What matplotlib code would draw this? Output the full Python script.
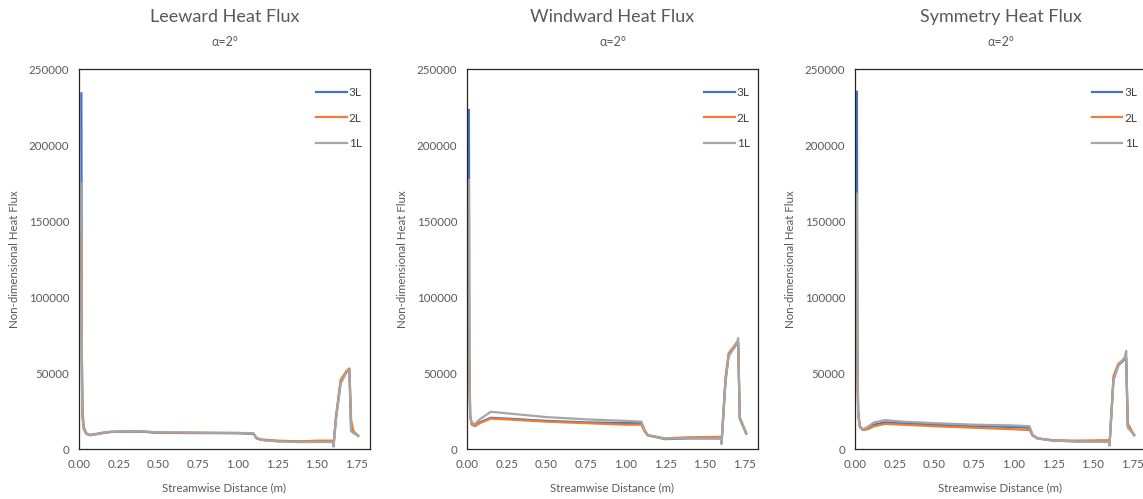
import matplotlib
matplotlib.use("Agg")
import matplotlib.pyplot as plt

plt.rcParams['font.family'] = ['Lato', 'DejaVu Sans']

series_names = ["3L", "2L", "1L"]
colors = ["#4472C4", "#ED7D31", "#A5A5A5"]

titles = ["Leeward Heat Flux", "Windward Heat Flux", "Symmetry Heat Flux"]
subtitle = "α=2°"
xlabel = "Streamwise Distance (m)"
ylabel = "Non-dimensional Heat Flux"
xticks = [0.00, 0.25, 0.50, 0.75, 1.00, 1.25, 1.50, 1.75]
yticks = [0, 50000, 100000, 150000, 200000, 250000]

# Leeward
lee_x = [0.015, 0.018, 0.022, 0.03, 0.045, 0.07, 0.10, 0.15, 0.20, 0.30, 0.40, 0.50, 0.75, 1.00, 1.10, 1.12,
         1.15, 1.25, 1.40, 1.50, 1.60, 1.605, 1.62, 1.65, 1.685, 1.705, 1.716, 1.73, 1.76]
lee_3L = [234000, 63000, 22000, 13500, 10000, 9200, 9600, 10500, 11200, 11500, 11400, 10600, 10500, 10400, 10000, 7000,
          6000, 5200, 4800, 5000, 5000, 2000, 20000, 44000, 50500, 52500, 12000, 11000, 8800]
lee_2L = [143000, 60000, 27000, 14500, 10500, 9300, 9800, 10800, 11300, 11500, 11500, 10800, 10700, 10500, 10200, 7200,
          6300, 5500, 5000, 5500, 5500, 2200, 21000, 45500, 51000, 53000, 19000, 12000, 8500]
lee_1L = [175000, 45000, 20000, 13000, 10000, 9000, 9500, 10500, 11300, 11700, 11600, 11000, 10800, 10600, 10400, 7000,
          6000, 5000, 4500, 4600, 4600, 1500, 19000, 43000, 50000, 52000, 12000, 10500, 8700]

# Windward
win_x = [0.012, 0.015, 0.02, 0.03, 0.05, 0.08, 0.15, 0.25, 0.50, 0.75, 1.00, 1.10, 1.12, 1.14, 1.25, 1.40,
         1.60, 1.605, 1.63, 1.65, 1.68, 1.70, 1.71, 1.72, 1.76]
win_3L = [223000, 60000, 22000, 16500, 15800, 17500, 20500, 20000, 18500, 17500, 17000, 17000, 12000, 9000, 6500, 7000,
          7000, 3500, 45000, 62000, 66000, 69000, 70000, 20000, 10500]
win_2L = [68000, 45000, 21000, 16000, 15000, 17000, 20000, 19500, 18000, 17000, 16000, 16000, 11500, 9000, 7000, 7700,
          8000, 3800, 47000, 63000, 67000, 70000, 69000, 21000, 10000]
win_1L = [177000, 55000, 22000, 17000, 16500, 19500, 24500, 23500, 21000, 19500, 18500, 18000, 12500, 9200, 6800, 7000,
          7000, 3500, 44000, 61000, 66000, 69000, 73000, 20000, 11000]

# Symmetry
sym_x = [0.012, 0.015, 0.02, 0.03, 0.05, 0.08, 0.12, 0.19, 0.30, 0.50, 0.75, 1.00, 1.10, 1.12, 1.15, 1.25,
         1.40, 1.60, 1.605, 1.63, 1.66, 1.70, 1.71, 1.72, 1.76]
sym_3L = [235000, 70000, 25000, 15000, 12500, 13500, 16000, 17500, 17000, 16000, 15000, 14500, 14000, 9000, 7000, 5500,
          5000, 5000, 2500, 46000, 55000, 59000, 60000, 15000, 9200]
sym_2L = [135000, 50000, 22000, 14500, 12500, 13000, 15000, 16500, 16000, 15000, 14000, 13000, 12500, 9000, 7000, 5800,
          5500, 5800, 2800, 48000, 56000, 59500, 59000, 17000, 9000]
sym_1L = [168000, 60000, 24000, 15000, 13000, 14500, 17500, 19000, 18000, 17000, 16000, 15500, 15000, 9500, 7000, 5500,
          5000, 4800, 2300, 45000, 55000, 60000, 64500, 14000, 9500]

panels = [
    (lee_x, [lee_3L, lee_2L, lee_1L]),
    (win_x, [win_3L, win_2L, win_1L]),
    (sym_x, [sym_3L, sym_2L, sym_1L]),
]

W, H = 1143, 499
fig = plt.figure(figsize=(W / 100, H / 100), dpi=100)
txt = "#595959"

lefts = [79, 467, 855]
ax_w = 291
top_px, bot_px = 69, 449

for i, (x, ys) in enumerate(panels):
    ax = fig.add_axes([lefts[i] / W, (H - bot_px) / H, ax_w / W, (bot_px - top_px) / H])
    for name, c, y in zip(series_names, colors, ys):
        ax.plot(x, y, color=c, lw=1.6, label=name, solid_joinstyle='round')
    ax.set_xlim(0, 1.835)
    ax.set_ylim(0, 250000)
    ax.set_xticks(xticks)
    ax.set_xticklabels([f"{t:.2f}" for t in xticks])
    ax.set_yticks(yticks)
    ax.set_yticklabels([str(t) for t in yticks])
    ax.tick_params(length=0, labelsize=8.3, colors=txt, pad=7)
    for s in ax.spines.values():
        s.set_color("#262626")
        s.set_linewidth(0.9)
    ax.set_xlabel(xlabel, fontsize=8.3, color=txt, labelpad=9)
    ax.set_ylabel(ylabel, fontsize=8.3, color=txt, labelpad=6)
    ax.text(0.5, 1.0 + 52 / 380, titles[i], transform=ax.transAxes, ha='center', va='center',
            fontsize=13, color=txt)
    ax.text(0.5, 1.0 + 27 / 380, subtitle, transform=ax.transAxes, ha='center', va='center',
            fontsize=9, color=txt)
    leg = ax.legend(loc='upper right', bbox_to_anchor=(1.0, 0.975), frameon=False, fontsize=8.5,
                    handlelength=2.6, handletextpad=0.2, labelspacing=1.25, borderaxespad=0.3)
    for t in leg.get_texts():
        t.set_color("#404040")

fig.savefig("out.png", dpi=100)
